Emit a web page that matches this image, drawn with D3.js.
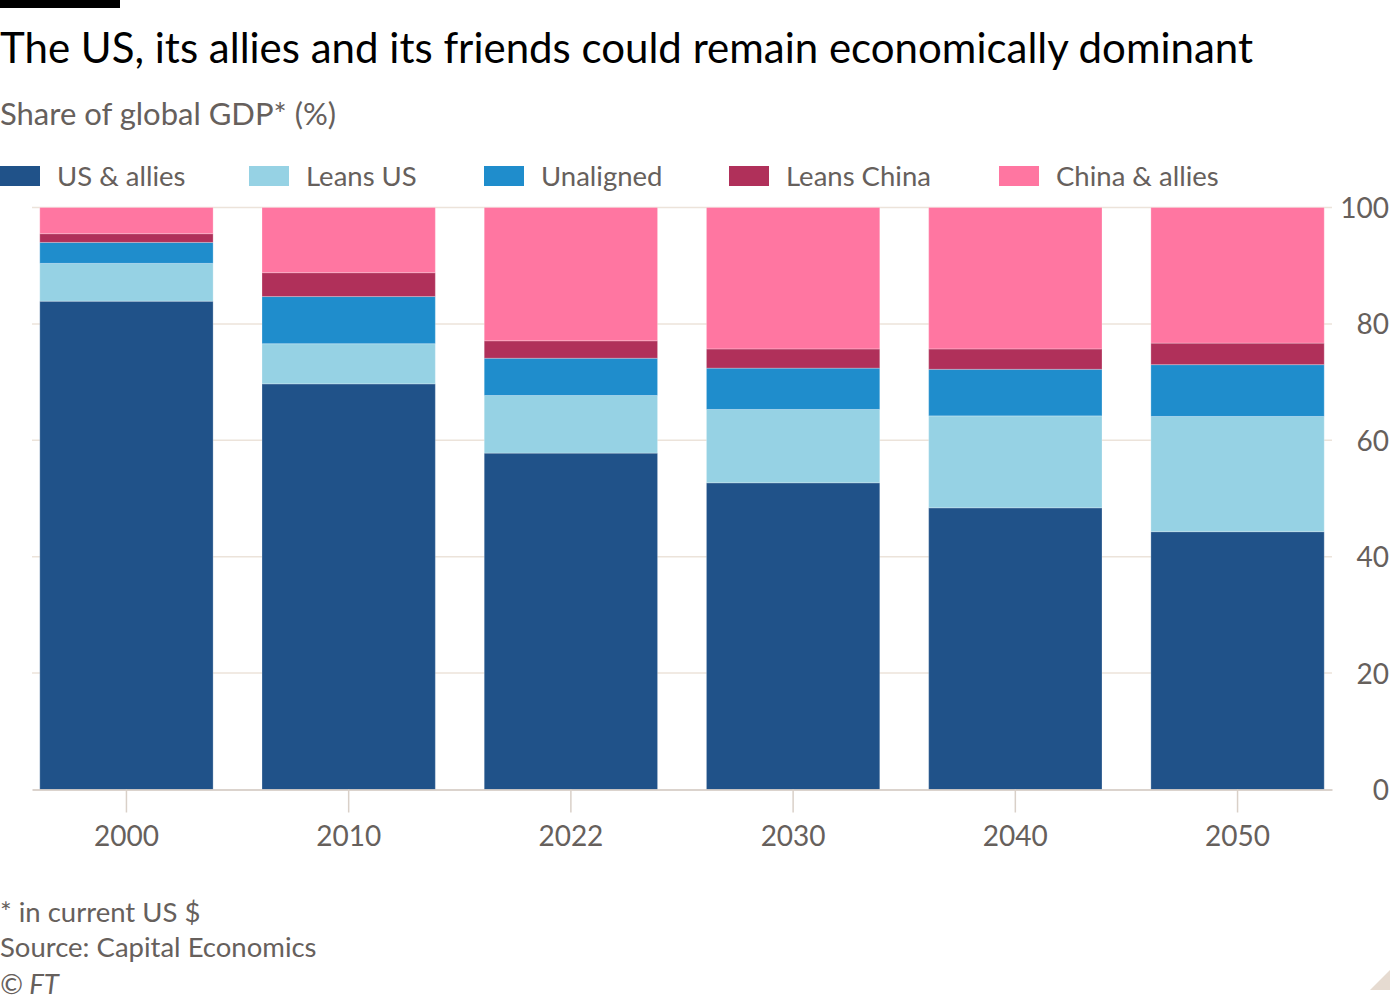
<!DOCTYPE html>
<html>
<head>
<meta charset="utf-8">
<script src="https://cdn.jsdelivr.net/npm/d3@7"></script>
<style>
  body { margin: 0; background: #fff; }
  text { font-family: Lato, "Noto Sans", sans-serif; }
</style>
</head>
<body>
<svg width="1400" height="1000"></svg>
<script>
const width = 1400;
const height = 1000;

// chart data
const years = ['2000', '2010', '2022', '2030', '2040', '2050'];
const groups = ['US & allies', 'Leans US', 'Unaligned', 'Leans China', 'China & allies'];
const usAllies = [83.9, 69.7, 57.8, 52.7, 48.4, 44.3];
const leansUS = [6.5, 6.9, 9.9, 12.6, 15.8, 19.8];
const unaligned = [3.6, 8.1, 6.4, 7.1, 8.0, 8.9];
const leansChina = [1.5, 4.1, 3.0, 3.3, 3.5, 3.7];
const chinaAllies = [4.5, 11.2, 22.9, 24.3, 24.3, 23.3];
const yTicks = [0, 20, 40, 60, 80, 100];
const colours = ['#205289', '#96d2e4', '#1f8dcc', '#b0305a', '#ff76a1'];

const seriesVals = [usAllies, leansUS, unaligned, leansChina, chinaAllies];
const rows = years.map((y, i) => {
  const r = {year: y};
  groups.forEach((g, j) => r[g] = seriesVals[j][i]);
  return r;
});

const svg = d3.select('svg');
const grey = '#66605c';

svg.append('rect').attr('x', 0).attr('y', 0).attr('width', 120).attr('height', 8).attr('fill', '#000');

svg.append('text').attr('x', 0).attr('y', 63)
  .attr('font-size', 42).attr('fill', '#000')
  .text('The US, its allies and its friends could remain economically dominant');

svg.append('text').attr('x', 0).attr('y', 125)
  .attr('font-size', 31).attr('fill', grey)
  .text('Share of global GDP* (%)');

// legend
const legendX = [0, 249, 484, 729, 999];
const legend = svg.append('g').selectAll('g').data(groups).enter().append('g')
  .attr('transform', (d, i) => `translate(${legendX[i]},166)`);
legend.append('rect').attr('width', 40).attr('height', 20).attr('fill', (d, i) => colours[i]);
legend.append('text').attr('x', 57).attr('y', 20)
  .attr('font-size', 27.5).attr('fill', grey).text(d => d);

const x = d3.scaleBand().domain(years).range([32, 1332]).paddingInner(0.22).paddingOuter(0.035);
const y = d3.scaleLinear().domain([0, 100]).range([789.5, 207.5]);

// gridlines
svg.append('g').selectAll('line').data(yTicks.filter(t => t > 0)).enter().append('line')
  .attr('x1', 32).attr('x2', 1332)
  .attr('y1', d => y(d)).attr('y2', d => y(d))
  .attr('stroke', '#ece3da').attr('stroke-width', 1.5);

// right axis labels
const yAxis = svg.append('g').attr('transform', 'translate(1389,1)')
  .call(d3.axisRight(y).tickValues(yTicks).tickSize(0).tickPadding(0));
yAxis.select('.domain').remove();
yAxis.selectAll('text').attr('text-anchor', 'end').attr('x', 0)
  .attr('font-family', 'Lato, "Noto Sans", sans-serif')
  .attr('font-size', 28).attr('fill', grey);

// stacked bars
const stack = d3.stack().keys(groups)(rows);
svg.append('g').selectAll('g').data(stack).enter().append('g')
  .attr('fill', (d, i) => colours[i])
  .selectAll('rect').data(d => d).enter().append('rect')
  .attr('x', d => x(d.data.year))
  .attr('width', x.bandwidth())
  .attr('y', d => y(d[1]))
  .attr('height', d => y(d[0]) - y(d[1]))
  .attr('stroke', 'rgba(255,255,255,0.25)').attr('stroke-width', 1);

// bottom axis
const xAxis = svg.append('g').attr('transform', 'translate(0,789.5)')
  .call(d3.axisBottom(x).tickSize(23).tickPadding(14).tickSizeOuter(0));
xAxis.select('.domain').attr('stroke', '#cfc5bc').attr('stroke-width', 1.5);
xAxis.selectAll('.tick line').attr('stroke', '#d9d0c8').attr('stroke-width', 1.5);
xAxis.selectAll('text').attr('font-family', 'Lato, "Noto Sans", sans-serif')
  .attr('font-size', 28).attr('fill', grey);

// footnotes
svg.append('text').attr('x', 0).attr('y', 922).attr('font-size', 27.5).attr('fill', grey).text('* in current US $');
svg.append('text').attr('x', 0).attr('y', 957).attr('font-size', 27.5).attr('fill', grey).text('Source: Capital Economics');
svg.append('text').attr('x', 0).attr('y', 994).attr('font-size', 27.5).attr('fill', grey)
  .attr('font-style', 'italic').text('© FT');

svg.append('path').attr('d', 'M1370,990 L1390,970 L1390,990 Z').attr('fill', '#e6dbd1');
</script>
</body>
</html>
